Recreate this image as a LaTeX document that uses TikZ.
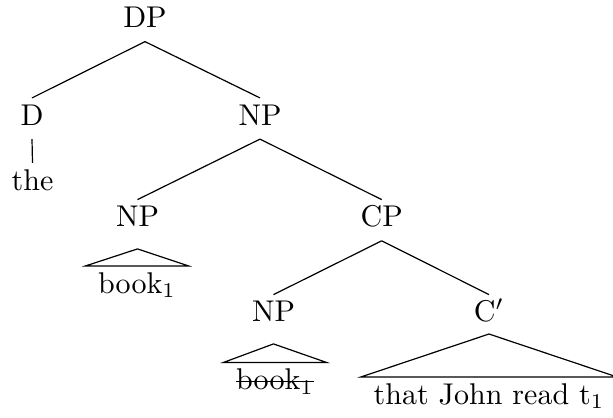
\documentclass[tikz,border=0pt]{standalone}
\begin{document}
\begin{tikzpicture}[x=0.3333pt,y=-0.3333pt,
  lbl/.style={anchor=base,inner sep=2pt,text height=6.83pt,text depth=2.5pt},
  roofed/.style={lbl,inner xsep=4pt},
  edge/.style={line width=0.4pt}]
\useasboundingbox (0,0) rectangle (613,417);
\node[lbl] (dp) at (145,27.5) {DP};
\node[lbl] (d) at (32,125) {D};
\node[lbl] (np1) at (260,125) {NP};
\node[lbl] (the) at (32.5,190) {the};
\node[lbl] (np2) at (137.5,226.7) {NP};
\node[lbl] (cp) at (381.7,226.7) {CP};
\node[roofed] (book1) at (137,293) {book$_1$};
\node[lbl] (np3) at (273.5,321.7) {NP};
\node[lbl] (cbar) at (489,321.7) {C$'$};
\node[roofed] (book2) at (275,389.5) {book$_1$};
\node[roofed] (that) at (489,404) {that John read t$_1$};
\draw[edge] (dp.south) -- (d.north);
\draw[edge] (dp.south) -- (np1.north);
\draw[edge] (d.south) -- (the.north);
\draw[edge] (np1.south) -- (np2.north);
\draw[edge] (np1.south) -- (cp.north);
\draw[edge] (cp.south) -- (np3.north);
\draw[edge] (cp.south) -- (cbar.north);
\draw[edge] ([yshift=-2.7pt]np2.south) -- (book1.north west) -- (book1.north east) -- cycle;
\draw[edge] ([yshift=-2.7pt]np3.south) -- (book2.north west) -- (book2.north east) -- cycle;
\draw[edge] ([yshift=0.6pt]cbar.south) -- (that.north west) -- (that.north east) -- cycle;
\draw[edge] ([xshift=4pt,yshift=2.8pt]book2.base west) -- ([xshift=-4pt,yshift=2.8pt]book2.base east);
\end{tikzpicture}
\end{document}
